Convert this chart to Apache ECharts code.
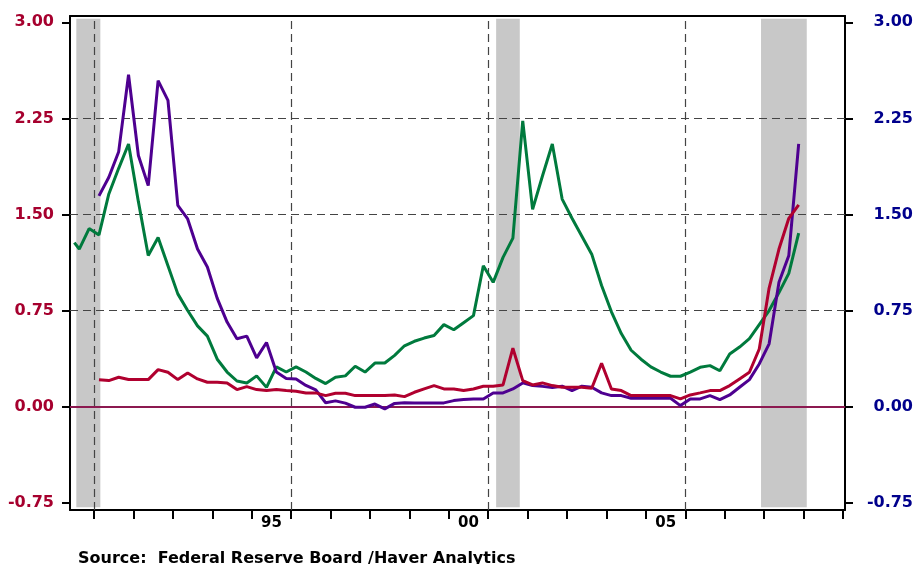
<!DOCTYPE html>
<html><head><meta charset="utf-8">
<script src="https://cdn.jsdelivr.net/npm/echarts@6/dist/echarts.min.js"></script>
<style>html,body{margin:0;padding:0;background:#fff}#c{width:918px;height:564px}</style>
</head><body><div id="c"></div>
<script>
// ---- data (quarterly, plotted at mid-quarter) ----
const greenLeadIn = [1990.5, 1.28];          // visible start of the green line at the left edge
const greenStart = [1990, 3];                // first quarter of the green array
const green = [
  1.23, 1.39,                 // 1990 Q3-Q4
  1.34, 1.66, 1.86, 2.05,     // 1991
  1.60, 1.18, 1.32, 1.10,     // 1992
  0.88, 0.75, 0.63, 0.55,     // 1993
  0.37, 0.27, 0.20, 0.185,    // 1994
  0.24, 0.15, 0.31, 0.27,     // 1995
  0.31, 0.27, 0.22, 0.18,     // 1996
  0.23, 0.24, 0.315, 0.27,    // 1997
  0.34, 0.34, 0.40, 0.475,    // 1998
  0.51, 0.535, 0.555, 0.64,   // 1999
  0.60, 0.655, 0.71, 1.10,    // 2000
  0.97, 1.165, 1.315, 2.23,   // 2001
  1.54, 1.80, 2.05, 1.62,     // 2002
  1.47, 1.33, 1.19, 0.945,    // 2003
  0.74, 0.57, 0.44, 0.37,     // 2004
  0.31, 0.27, 0.237, 0.237,   // 2005
  0.27, 0.307, 0.32, 0.28,    // 2006
  0.41, 0.465, 0.53, 0.64,    // 2007
  0.75, 0.89, 1.04, 1.355     // 2008
];
const purpleStart = [1991, 1];
const purple = [
  1.645, 1.79, 1.99, 2.59,    // 1991
  1.96, 1.725, 2.545, 2.39,   // 1992
  1.57, 1.465, 1.23, 1.09,    // 1993
  0.845, 0.66, 0.53, 0.55,    // 1994
  0.38, 0.50, 0.27, 0.22,     // 1995
  0.215, 0.165, 0.13, 0.03,   // 1996
  0.045, 0.027, -0.005, -0.005, // 1997
  0.02, -0.018, 0.025, 0.03,  // 1998
  0.029, 0.029, 0.029, 0.029, // 1999
  0.047, 0.055, 0.06, 0.06,   // 2000
  0.107, 0.107, 0.138, 0.185, // 2001
  0.164, 0.158, 0.15, 0.159,  // 2002
  0.125, 0.159, 0.151, 0.107, // 2003
  0.086, 0.086, 0.065, 0.065, // 2004
  0.065, 0.065, 0.065, 0.008, // 2005
  0.06, 0.06, 0.086, 0.055,   // 2006
  0.091, 0.151, 0.211, 0.333, // 2007
  0.49, 0.97, 1.18, 2.05      // 2008
];
const redStart = [1991, 1];
const red = [
  0.21, 0.203, 0.229, 0.211,  // 1991
  0.211, 0.211, 0.289, 0.268, // 1992
  0.211, 0.263, 0.216, 0.19,  // 1993
  0.19, 0.185, 0.133, 0.156,  // 1994
  0.133, 0.125, 0.133, 0.125, // 1995
  0.12, 0.107, 0.107, 0.086,  // 1996
  0.104, 0.104, 0.086, 0.086, // 1997
  0.086, 0.086, 0.091, 0.078, // 1998
  0.112, 0.138, 0.164, 0.138, // 1999
  0.138, 0.125, 0.138, 0.159, // 2000
  0.159, 0.169, 0.456, 0.203, // 2001
  0.169, 0.185, 0.164, 0.151, // 2002
  0.151, 0.151, 0.143, 0.339, // 2003
  0.138, 0.125, 0.086, 0.086, // 2004
  0.086, 0.086, 0.086, 0.06,  // 2005
  0.091, 0.107, 0.125, 0.125, // 2006
  0.164, 0.216, 0.268, 0.45,  // 2007
  0.925, 1.23, 1.47, 1.575    // 2008
];
const yTicks = [-0.75, 0, 0.75, 1.5, 2.25, 3.0];
const yearTicks = [1991,1992,1993,1994,1995,1996,1997,1998,1999,2000,2001,2002,2003,2004,2005,2006,2007,2008,2009,2010];
const yearLabelPos = [1995.5, 2000.5, 2005.5];
const vGrid = [1991, 1996, 2001, 2006];
const hGrid = [0.75, 1.5, 2.25];
const recessions = [[1990.55, 1991.16], [2001.2, 2001.8], [2007.92, 2009.08]];
const sourceText = 'Source:  Federal Reserve Board /Haver Analytics';

// ---- build ----
function toPoints(start, vals) {
  return vals.map((v, i) => [start[0] + (start[1] - 1 + i + 0.5) / 4, v]);
}
const FONT = 'DejaVu Sans';
const X_MIN = 1990.39, X_MAX = 2010.05, Y_MIN = -0.807, Y_MAX = 3.049;
const frame = { show: true, onZero: false, lineStyle: { color: '#000', width: 2 } };
const dash = { color: '#444', width: 1.2, type: [8, 5] };

const chart = echarts.init(document.getElementById('c'), null, { renderer: 'canvas' });
chart.setOption({
  animation: false,
  backgroundColor: '#fff',
  title: {
    text: sourceText, left: 73, top: 546,
    textStyle: { fontFamily: FONT, fontWeight: 'bold', fontSize: 16, color: '#000' }
  },
  grid: { left: 70, right: 73, top: 16, bottom: 54 },
  xAxis: [
    {
      type: 'value', min: X_MIN, max: X_MAX, position: 'bottom',
      axisLine: frame,
      axisTick: { show: true, customValues: yearTicks, length: 9, lineStyle: { color: '#000', width: 2 } },
      axisLabel: {
        show: true, customValues: yearLabelPos,
        formatter: v => String(Math.floor(v)).slice(2),
        color: '#000', fontFamily: FONT, fontWeight: 'bold', fontSize: 15, margin: 6
      },
      splitLine: { show: false }
    },
    {
      type: 'value', min: X_MIN, max: X_MAX, position: 'top',
      axisLine: frame, axisTick: { show: false }, axisLabel: { show: false }, splitLine: { show: false }
    }
  ],
  yAxis: [
    {
      type: 'value', min: Y_MIN, max: Y_MAX, position: 'left',
      axisLine: frame,
      axisTick: { show: true, customValues: yTicks, length: 8, lineStyle: { color: '#000', width: 2 } },
      axisLabel: {
        customValues: yTicks, formatter: v => v.toFixed(2),
        color: '#A6002E', fontFamily: FONT, fontWeight: 'bold', fontSize: 16, margin: 16
      },
      splitLine: { show: false }
    },
    {
      type: 'value', min: Y_MIN, max: Y_MAX, position: 'right',
      axisLine: frame,
      axisTick: { show: true, customValues: yTicks, length: 8, lineStyle: { color: '#000', width: 2 } },
      axisLabel: {
        customValues: yTicks, formatter: v => v.toFixed(2), align: 'right',
        color: '#00008C', fontFamily: FONT, fontWeight: 'bold', fontSize: 16, margin: 68
      },
      splitLine: { show: false }
    }
  ],
  series: [
    {
      type: 'line', data: [], z: 1, silent: true,
      markArea: {
        silent: true,
        itemStyle: { color: '#C8C8C8' },
        data: recessions.map(r => [{ xAxis: r[0], yAxis: -0.785 }, { xAxis: r[1], yAxis: 3.027 }])
      }
    },
    {
      type: 'line', data: [], z: 1, silent: true,
      markLine: {
        silent: true, symbol: 'none', z: 1, animation: false,
        label: { show: false },
        lineStyle: dash,
        data: [
          ...hGrid.map(v => ({ yAxis: v })),
          ...vGrid.map(v => ({ xAxis: v })),
          { yAxis: 0, lineStyle: { color: '#8C1950', width: 2, type: 'solid' } }
        ]
      }
    },
    {
      name: 'green', type: 'line', z: 3, showSymbol: false, symbol: 'none',
      lineStyle: { color: '#007A3D', width: 3 }, itemStyle: { color: '#007A3D' },
      data: [greenLeadIn, ...toPoints(greenStart, green)]
    },
    {
      name: 'purple', type: 'line', z: 4, showSymbol: false, symbol: 'none',
      lineStyle: { color: '#4E0090', width: 3 }, itemStyle: { color: '#4E0090' },
      data: toPoints(purpleStart, purple)
    },
    {
      name: 'red', type: 'line', z: 5, showSymbol: false, symbol: 'none',
      lineStyle: { color: '#B0002F', width: 3 }, itemStyle: { color: '#B0002F' },
      data: toPoints(redStart, red)
    }
  ]
});
</script>
</body></html>
